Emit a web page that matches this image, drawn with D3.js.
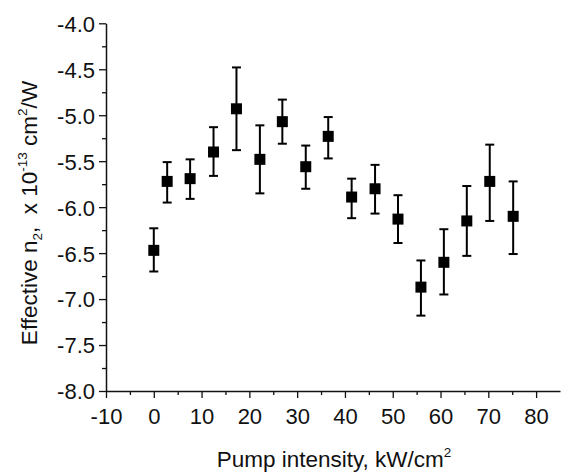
<!DOCTYPE html>
<html>
<head>
<meta charset="utf-8">
<script src="https://cdn.jsdelivr.net/npm/d3@7"></script>
<style>
  html, body { margin: 0; padding: 0; background: #fff; }
  svg { display: block; font-family: "Liberation Sans", Arial, sans-serif; }
</style>
</head>
<body>
<svg id="chart" width="561" height="472"></svg>
<script>
// ---- data ----
const pumpIntensity = [0, 2.8, 7.6, 12.5, 17.3, 22.2, 26.9, 31.8, 36.5, 41.4, 46.3, 51.1, 55.9, 60.7, 65.5, 70.3, 75.2];
const n2Values      = [-6.47, -5.72, -5.69, -5.40, -4.93, -5.48, -5.07, -5.56, -5.23, -5.89, -5.80, -6.13, -6.87, -6.60, -6.15, -5.72, -6.10];
const errUpper      = [0.24, 0.21, 0.21, 0.27, 0.45, 0.37, 0.24, 0.23, 0.21, 0.20, 0.26, 0.26, 0.29, 0.36, 0.38, 0.40, 0.38];
const errLower      = [0.23, 0.23, 0.22, 0.26, 0.45, 0.37, 0.24, 0.24, 0.24, 0.23, 0.27, 0.26, 0.31, 0.35, 0.38, 0.43, 0.41];
const xTickValues   = [-10, 0, 10, 20, 30, 40, 50, 60, 70, 80];
const xMinorTicks   = [-5, 5, 15, 25, 35, 45, 55, 65, 75];
const yTickValues   = [-4.0, -4.5, -5.0, -5.5, -6.0, -6.5, -7.0, -7.5, -8.0];
const yMinorTicks   = [-4.25, -4.75, -5.25, -5.75, -6.25, -6.75, -7.25, -7.75];

const svg = d3.select("#chart");
const x = d3.scaleLinear().domain([-10, 85]).range([106, 560]);
const y = d3.scaleLinear().domain([-8, -4]).range([391, 23.3]);

const data = pumpIntensity.map((p, i) => ({ x: p, y: n2Values[i], hi: n2Values[i] + errUpper[i], lo: n2Values[i] - errLower[i] }));

// ---- axes ----
const fontSize = 22;
const xAxis = svg.append("g").attr("transform", `translate(0,${y(-8)})`)
  .call(d3.axisBottom(x).tickValues(xTickValues).tickSize(7).tickSizeOuter(0).tickPadding(10).tickFormat(d => String(d)));
svg.append("g").attr("transform", `translate(0,${y(-8)})`)
  .call(d3.axisBottom(x).tickValues(xMinorTicks).tickSize(4).tickSizeOuter(0).tickFormat(""))
  .select(".domain").remove();

const yAxis = svg.append("g").attr("transform", `translate(${x(-10)},0)`)
  .call(d3.axisLeft(y).tickValues(yTickValues).tickSize(7).tickSizeOuter(0).tickPadding(4).tickFormat(d => d.toFixed(1)));
svg.append("g").attr("transform", `translate(${x(-10)},0)`)
  .call(d3.axisLeft(y).tickValues(yMinorTicks).tickSize(4).tickSizeOuter(0).tickFormat(""))
  .select(".domain").remove();

svg.selectAll(".domain").attr("stroke", "#111").attr("stroke-width", 1.5);
svg.selectAll(".tick line").attr("stroke", "#111").attr("stroke-width", 1.3);
svg.selectAll(".tick text").attr("font-size", fontSize).attr("fill", "#111")
  .attr("font-family", "'Liberation Sans', Arial, sans-serif");
xAxis.selectAll(".tick text").attr("dy", "0.71em");
yAxis.selectAll(".tick text").attr("dy", "0.36em");

// ---- error bars ----
const eb = svg.append("g").attr("stroke", "#000");
eb.selectAll("line.v").data(data).join("line").attr("class", "v")
  .attr("x1", d => x(d.x)).attr("x2", d => x(d.x))
  .attr("y1", d => y(d.hi)).attr("y2", d => y(d.lo)).attr("stroke-width", 2);
eb.selectAll("line.ct").data(data).join("line").attr("class", "ct")
  .attr("x1", d => x(d.x) - 4.5).attr("x2", d => x(d.x) + 4.5)
  .attr("y1", d => y(d.hi)).attr("y2", d => y(d.hi)).attr("stroke-width", 2);
eb.selectAll("line.cb").data(data).join("line").attr("class", "cb")
  .attr("x1", d => x(d.x) - 4.5).attr("x2", d => x(d.x) + 4.5)
  .attr("y1", d => y(d.lo)).attr("y2", d => y(d.lo)).attr("stroke-width", 2);

// ---- markers ----
const ms = 11;
svg.append("g").selectAll("rect").data(data).join("rect")
  .attr("x", d => x(d.x) - ms / 2).attr("y", d => y(d.y) - ms / 2)
  .attr("width", ms).attr("height", ms).attr("fill", "#000");

// ---- axis titles ----
const xt = svg.append("text").attr("x", 334).attr("y", 466.5).attr("text-anchor", "middle")
  .attr("font-size", 22.5).attr("fill", "#111");
xt.append("tspan").text("Pump intensity, kW/cm");
xt.append("tspan").attr("font-size", 13.5).attr("dy", -10).text("2");

const yt = svg.append("text").attr("transform", "translate(37,213) rotate(-90)")
  .attr("text-anchor", "middle").attr("font-size", 22.5).attr("fill", "#111");
yt.append("tspan").text("Effective n");
yt.append("tspan").attr("font-size", 13.5).attr("dy", 5).text("2");
yt.append("tspan").attr("dy", -5).text(",\u00a0\u00a0x 10");
yt.append("tspan").attr("font-size", 13.5).attr("dy", -10).text("-13");
yt.append("tspan").attr("dy", 10).text(" cm");
yt.append("tspan").attr("font-size", 13.5).attr("dy", -10).text("2");
yt.append("tspan").attr("dy", 10).text("/W");
</script>
</body>
</html>
